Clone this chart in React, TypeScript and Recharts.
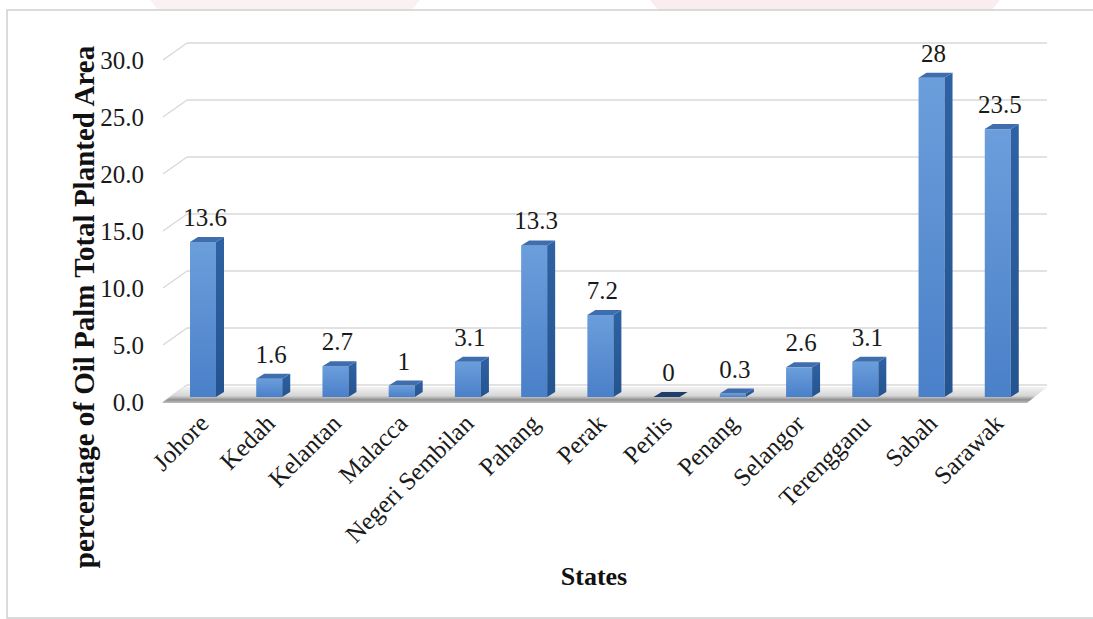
import React from 'react';
import { BarChart, Bar, XAxis, YAxis, CartesianGrid, LabelList } from 'recharts';

const states = [
  'Johore', 'Kedah', 'Kelantan', 'Malacca', 'Negeri Sembilan', 'Pahang', 'Perak',
  'Perlis', 'Penang', 'Selangor', 'Terengganu', 'Sabah', 'Sarawak',
];
const plantedShare = [13.6, 1.6, 2.7, 1, 3.1, 13.3, 7.2, 0, 0.3, 2.6, 3.1, 28, 23.5];
const yTicks = [0, 5, 10, 15, 20, 25, 30];

const data = states.map((state, i) => ({ state, share: plantedShare[i] }));

const FONT = '"Liberation Serif", "Times New Roman", serif';
// depth offset of the back wall and of the bar sides
const WALL_DX = 17;
const WALL_DY = -15;
const BAR_DX = 8;
const BAR_DY = -5;
const LIFT = 3;
const RIGHT_WALL = 1047;

const GridLine = (props: any) => {
  const { x1, y1 } = props;
  const bx = x1 + WALL_DX;
  const by = y1 + WALL_DY;
  const isFloor = Math.abs(y1 - 400) < 1;
  return (
    <g>
      <line x1={x1 - 7} y1={y1 + 2} x2={bx} y2={by} stroke="#d9d9d9" strokeWidth={1.5} />
      <line x1={bx} y1={by} x2={RIGHT_WALL} y2={by} stroke="#d9d9d9" strokeWidth={1.5} />
      {isFloor && (
        <polygon
          points={`${x1 - 8},${y1 + 3} ${bx - 3},${by + 2} ${RIGHT_WALL},${by + 2} ${RIGHT_WALL - 20},${y1 + 3}`}
          fill="url(#floorFill)"
        />
      )}
    </g>
  );
};

const Bar3D = (props: any) => {
  const { x, y, width, height, value } = props;
  const top = y - LIFT;
  const bottom = y + height - LIFT;
  if (!value) {
    return (
      <polygon
        points={`${x},${bottom} ${x + BAR_DX},${bottom + BAR_DY} ${x + width + BAR_DX},${bottom + BAR_DY} ${x + width},${bottom}`}
        fill="#1e3d6b"
      />
    );
  }
  return (
    <g>
      <rect x={x} y={top} width={width} height={bottom - top} fill="url(#barFront)" />
      <polygon
        points={`${x + width},${top} ${x + width + BAR_DX},${top + BAR_DY} ${x + width + BAR_DX},${bottom + BAR_DY} ${x + width},${bottom}`}
        fill="url(#barSide)"
      />
      <polygon
        points={`${x},${top} ${x + BAR_DX},${top + BAR_DY} ${x + width + BAR_DX},${top + BAR_DY} ${x + width},${top}`}
        fill="#3f6eae"
      />
    </g>
  );
};

const ValueLabel = (props: any) => {
  const { x, y, width, value } = props;
  return (
    <text x={x + width / 2 + 2} y={y - LIFT - 16} textAnchor="middle" fontFamily={FONT} fontSize={25} fill="#1a1a1a">
      {String(value)}
    </text>
  );
};

const StateTick = (props: any) => {
  const { x, payload } = props;
  return (
    <text
      x={x + 7}
      y={425}
      transform={`rotate(-45, ${x + 7}, 425)`}
      textAnchor="end"
      fontFamily={FONT}
      fontSize={25}
      fill="#1a1a1a"
    >
      {payload.value}
    </text>
  );
};

const ShareTick = (props: any) => {
  const { y, payload } = props;
  return (
    <text x={144} y={y + 2} dy="0.35em" textAnchor="end" fontFamily={FONT} fontSize={25} fill="#1a1a1a">
      {Number(payload.value).toFixed(1)}
    </text>
  );
};

export default function App() {
  return (
    <div style={{ position: 'absolute', left: 0, top: 0, width: 1093, height: 619, background: '#fff', overflow: 'hidden' }}>
      <svg width={1093} height={619} style={{ position: 'absolute', left: 0, top: 0 }}>
        <polygon points="150,0 420,0 412,10 158,10" fill="#f6dfe3" opacity={0.45} />
        <polygon points="650,0 1000,0 992,10 658,10" fill="#f3d6dc" opacity={0.45} />
        <rect x={7} y={10} width={1095} height={608} fill="none" stroke="#cfcfcf" strokeWidth={1.5} />
        <text
          x={0}
          y={0}
          transform="translate(94, 307) rotate(-90)"
          textAnchor="middle"
          fontFamily={FONT}
          fontWeight="bold"
          fontSize={29}
          fill="#111"
        >
          percentage of Oil Palm Total Planted Area
        </text>
        <text x={594} y={585} textAnchor="middle" fontFamily={FONT} fontWeight="bold" fontSize={26} fill="#111">
          States
        </text>
      </svg>
      <div style={{ position: 'absolute', left: 0, top: 0 }}>
        <BarChart width={1093} height={619} data={data} margin={{ top: 58, right: 62, bottom: 0, left: 0 }}>
          <defs>
            <linearGradient id="barFront" x1="0" y1="0" x2="0" y2="1">
              <stop offset="0%" stopColor="#6b9edb" />
              <stop offset="100%" stopColor="#4a80c9" />
            </linearGradient>
            <linearGradient id="barSide" x1="0" y1="0" x2="0" y2="1">
              <stop offset="0%" stopColor="#2f62a4" />
              <stop offset="100%" stopColor="#24548f" />
            </linearGradient>
            <linearGradient id="floorFill" x1="0" y1="0" x2="0" y2="1">
              <stop offset="0%" stopColor="#f2f2f2" />
              <stop offset="55%" stopColor="#d6d6d6" />
              <stop offset="80%" stopColor="#8f8f8f" />
              <stop offset="100%" stopColor="#bdbdbd" />
            </linearGradient>
          </defs>
          <CartesianGrid vertical={false} horizontal={GridLine} />
          <XAxis
            dataKey="state"
            height={219}
            axisLine={false}
            tickLine={false}
            interval={0}
            tick={StateTick}
          />
          <YAxis
            width={170}
            domain={[0, 30]}
            ticks={yTicks}
            axisLine={false}
            tickLine={false}
            tick={ShareTick}
          />
          <Bar dataKey="share" barSize={26} shape={Bar3D} isAnimationActive={false}>
            <LabelList dataKey="share" content={ValueLabel} />
          </Bar>
        </BarChart>
      </div>
    </div>
  );
}
